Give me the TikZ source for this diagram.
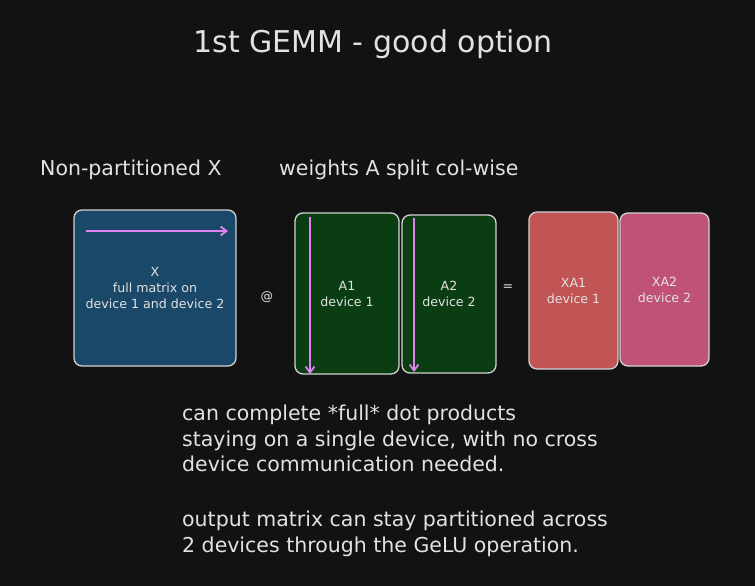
\documentclass[tikz,border=0pt]{standalone}
\usepackage{fontspec}
\setmainfont{DejaVu Sans}
\usetikzlibrary{arrows.meta,positioning}
\definecolor{bgDark}{HTML}{121212}
\definecolor{txtLight}{HTML}{E2E2E2}
\definecolor{edgeGrey}{HTML}{D2D2D2}
\definecolor{xBlue}{HTML}{1A4868}
\definecolor{aGreen}{HTML}{0A3E12}
\definecolor{outRed}{HTML}{C15454}
\definecolor{outPink}{HTML}{C05278}
\definecolor{arrViolet}{HTML}{E083F0}

\begin{document}
\begin{tikzpicture}[x=1pt,y=-1pt,
  txt/.style={text=txtLight,inner sep=0pt},
  lbl/.style={txt,font=\fontsize{20.5}{25.5}\selectfont},
  blk/.style={draw=edgeGrey,line width=1.3pt,rounded corners=8pt,text=txtLight,
              align=center,inner sep=0pt,font=\fontsize{12.6}{16}\selectfont},
  a/.style={-{Straight Barb[length=6pt,width=9pt]},arrViolet,line width=1.8pt}]
\fill[bgDark] (0,0) rectangle (755,586);
\node[txt,font=\fontsize{30}{34}\selectfont,anchor=base] (title) at (373,53) {1st GEMM - good option};
\node[lbl,anchor=base west] (lblx) at (40,175) {Non-partitioned X};
\node[lbl,anchor=base west] (lbla) at (279,175) {weights A split col-wise};
% matrices
\node[blk,fill=xBlue,minimum width=162,minimum height=156] (x) at (155,288)
  {X\\full matrix on\\device 1 and device 2};
\node[blk,fill=aGreen,minimum width=104,minimum height=161] (a1) at (347,293.5) {A1\\device 1};
\node[blk,fill=aGreen,minimum width=94,minimum height=158] (a2) at (449,294) {A2\\device 2};
\node[blk,fill=outRed,minimum width=89,minimum height=157] (xa1) at (573.5,290.5) {XA1\\device 1};
\node[blk,fill=outPink,minimum width=89,minimum height=153] (xa2) at (664.5,289.5) {XA2\\device 2};
\node[txt,font=\fontsize{12.6}{16}\selectfont] (atop) at (267,297) {@};
\node[txt,font=\fontsize{12.6}{16}\selectfont] (eqop) at (508,288) {=};
% dot product directions
\coordinate (xs) at (86,231);
\coordinate (xe) at (228,231);
\coordinate (a1s) at (310,217);
\coordinate (a1e) at (310,374);
\coordinate (a2s) at (414,218);
\coordinate (a2e) at (414,372);
\draw[a] (xs) -- (xe);
\draw[a] (a1s) -- (a1e);
\draw[a] (a2s) -- (a2e);
\node[lbl,align=left,anchor=base west] (note) at (182,552)
  {can complete *full* dot products\\
   staying on a single device, with no cross\\
   device communication needed.\\[29.5pt]
   output matrix can stay partitioned across\\
   2 devices through the GeLU operation.};
\end{tikzpicture}
\end{document}
